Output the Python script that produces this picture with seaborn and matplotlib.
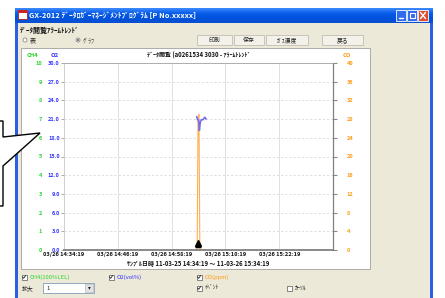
import numpy as np
import pandas as pd
import matplotlib
matplotlib.use("Agg")
import matplotlib.pyplot as plt
import matplotlib.transforms as mtransforms
from matplotlib.patches import Rectangle, Polygon
import seaborn as sns

sns.set_theme(style="white")
plt.rcParams['font.family'] = ['Noto Sans CJK JP', 'DejaVu Sans']

# ---------------- data ----------------
ch4_ticks = [0, 1, 2, 3, 4, 5, 6, 7, 8, 9, 10]
o2_ticks = [0, 3, 6, 9, 12, 15, 18, 21, 24, 27, 30]
o2_tick_labels = ["0.0", "3.0", "6.0", "9.0", "12.0", "15.0", "18.0", "21.0", "24.0", "27.0", "30.0"]
co_ticks = [0, 4, 8, 12, 16, 20, 24, 28, 32, 36, 40]
x_ticks = [0, 12, 24, 36, 48]          # minutes after 14:34:19
x_tick_labels = ["03/26 14:34:19", "03/26 14:46:19", "03/26 14:58:19",
                 "03/26 15:10:19", "03/26 15:22:19"]

o2_time = [29.6, 29.8, 30.0, 30.2, 30.4, 30.6, 31.0, 31.4, 31.7]
o2_vol = [21.4, 20.9, 20.9, 19.2, 20.5, 20.9, 20.9, 21.3, 21.0]
co_time = [29.4, 29.7, 29.9, 30.1, 30.3, 30.6, 31.2, 31.7]
co_ppm = [0, 0, 28, 29, 0, 0, 0, 0]
ch4_time = [29.4, 29.9, 30.4, 31.0, 31.7]
ch4_lel = [0, 0, 0, 0, 0]
event_time = [29.8]

title_text = "ﾃﾞｰﾀ閲覧 (a0261534 3030 - ｱﾗｰﾑﾄﾚﾝﾄﾞ"
sample_text = "ｻﾝﾌﾟﾙ日時 11-03-25 14:34:19 ～ 11-03-26 15:34:19"

GREEN = "#2ad62a"
BLUE = "#3434ff"
ORANGE = "#ff9c1a"
O2LINE = "#7a6ee6"
COLINE = "#ffae50"

W, H = 445, 298
fig = plt.figure(figsize=(W / 100, H / 100), dpi=100)
fig.patch.set_facecolor("white")

# ---------------- window chrome ----------------
bg = fig.add_axes([0, 0, 1, 1])
bg.set_xlim(0, W)
bg.set_ylim(H, 0)
bg.axis("off")

bg.add_patch(Rectangle((16, 8), 417, 292, facecolor="#ECE9D8", edgecolor="none"))
bg.add_patch(Rectangle((15, 8), 3, 292, facecolor="#2a5fe0", edgecolor="none"))
bg.add_patch(Rectangle((430, 8), 3, 292, facecolor="#2a5fe0", edgecolor="none"))
grad = np.linspace(0, 1, 50).reshape(-1, 1)
cmap = matplotlib.colors.LinearSegmentedColormap.from_list(
    "tb", ["#3d8bff", "#0a5de8", "#0052dd", "#0a4fd0"])
bg.imshow(grad, extent=(15, 433, 23, 8), aspect="auto", cmap=cmap, zorder=1)
bg.add_patch(Rectangle((18, 10), 9, 9, facecolor="#ffffff", edgecolor="#aa2222", lw=0.6, zorder=2))
bg.add_patch(Rectangle((18, 10), 9, 3, facecolor="#cc2222", edgecolor="none", zorder=2))
bg.text(29, 15.5, "GX-2012 ﾃﾞｰﾀﾛｶﾞｰﾏﾈｰｼﾞﾒﾝﾄﾌﾟﾛｸﾞﾗﾑ [P No.xxxxx]", color="white",
        fontsize=5.4, va="center", ha="left", fontweight="bold", zorder=3)
for x0, fc in [(396, "#2f6cf0"), (407, "#2f6cf0"), (418, "#e0502f")]:
    bg.add_patch(Rectangle((x0, 10), 10, 11, facecolor=fc, edgecolor="white", lw=0.6, zorder=3))
bg.plot([399, 403], [18, 18], color="white", lw=1, zorder=4)
bg.add_patch(Rectangle((409.5, 12.5), 5, 5, facecolor="none", edgecolor="white", lw=0.8, zorder=4))
bg.plot([420.5, 425.5], [12.5, 18.5], color="white", lw=1, zorder=4)
bg.plot([420.5, 425.5], [18.5, 12.5], color="white", lw=1, zorder=4)

bg.text(20, 30, "ﾃﾞｰﾀ閲覧ｱﾗｰﾑﾄﾚﾝﾄﾞ", fontsize=5.0, va="center", ha="left", color="#111111",
        fontweight="bold")
bg.add_patch(plt.Circle((25, 40), 2, facecolor="white", edgecolor="#777777", lw=0.5))
bg.text(30, 40, "表", fontsize=4.4, va="center", ha="left", color="#222222")
bg.add_patch(plt.Circle((78, 40), 2, facecolor="white", edgecolor="#777777", lw=0.5))
bg.add_patch(plt.Circle((78, 40), 0.9, facecolor="#333333", edgecolor="none"))
bg.text(83, 40, "ｸﾞﾗﾌ", fontsize=4.4, va="center", ha="left", color="#444444")

for (x0, x1), lab in zip([(197, 232), (234, 264), (266, 308), (322, 363)],
                         ["印刷", "保存", "ｶﾞｽ濃度", "戻る"]):
    bg.add_patch(Rectangle((x0, 35), x1 - x0, 10, facecolor="#f3f1ea",
                           edgecolor="#b8b4a8", lw=0.5))
    bg.text((x0 + x1) / 2, 40, lab, fontsize=4.2, va="center", ha="center", color="#222222")

bg.add_patch(Rectangle((21, 48), 349, 221, facecolor="white", edgecolor="#a0a0a0", lw=0.6))
bg.text(32, 55.5, "CH4", fontsize=4.2, color=GREEN, ha="center", va="center", fontweight="bold")
bg.text(55, 55.5, "O2", fontsize=4.2, color=BLUE, ha="center", va="center", fontweight="bold")
bg.text(347, 55.5, "CO", fontsize=4.2, color=ORANGE, ha="center", va="center", fontweight="bold")
bg.text(198.5, 55.5, title_text, fontsize=4.3, color="#111111", ha="center", va="center",
        fontweight="bold")
bg.text(198.5, 263.5, sample_text, fontsize=4.3, color="#111111", ha="center", va="center",
        fontweight="bold")

def checkbox(x, y, checked=True):
    bg.add_patch(Rectangle((x - 2.5, y - 2.5), 5, 5, facecolor="white",
                           edgecolor="#555555", lw=0.5))
    if checked:
        bg.plot([x - 1.5, x - 0.3, x + 1.6], [y, y + 1.3, y - 1.4], color="#222222", lw=0.6)

checkbox(24, 277)
bg.text(30, 277, "CH4(100%LEL)", fontsize=4.2, color=GREEN, va="center", ha="left")
checkbox(111, 277)
bg.text(117, 277, "O2(vol%)", fontsize=4.2, color=BLUE, va="center", ha="left")
checkbox(199, 277)
bg.text(205, 277, "CO(ppm)", fontsize=4.2, color=ORANGE, va="center", ha="left")
bg.text(22, 288, "拡大", fontsize=4.2, color="#222222", va="center", ha="left")
bg.add_patch(Rectangle((43, 283), 51, 10, facecolor="white", edgecolor="#7f9db9", lw=0.6))
bg.text(46, 288, "1", fontsize=4.2, color="#222222", va="center", ha="left")
bg.add_patch(Rectangle((85, 284), 8, 8, facecolor="#e4e4e4", edgecolor="#aaaaaa", lw=0.4))
bg.text(89, 288, "▾", fontsize=4.0, color="#222222", va="center", ha="center")
checkbox(199, 288)
bg.text(205, 288, "ｲﾍﾞﾝﾄ", fontsize=4.2, color="#222222", va="center", ha="left")
checkbox(289, 288, checked=False)
bg.text(295, 288, "ｶｰｿﾙ", fontsize=4.2, color="#222222", va="center", ha="left")

bg.add_patch(Polygon([(-3, 121), (3, 121), (3, 137), (40, 133), (3, 166), (3, 206), (-3, 206)],
                     closed=True, facecolor="white", edgecolor="black", lw=1.0, zorder=5))

# ---------------- chart axes ----------------
L, R, T, B = 64, 333, 63, 250
rect = [L / W, (H - B) / H, (R - L) / W, (B - T) / H]
ax = fig.add_axes(rect)          # O2 axis (left, 0-30)
ax.set_facecolor("none")
ax_ch4 = ax.twinx()              # CH4 axis (left labels, 0-10)
ax_co = ax.twinx()               # CO axis (right, 0-40)

df_o2 = pd.DataFrame({"t": o2_time, "v": o2_vol})
df_co = pd.DataFrame({"t": co_time, "v": co_ppm})
df_ch4 = pd.DataFrame({"t": ch4_time, "v": ch4_lel})

sns.lineplot(data=df_ch4, x="t", y="v", ax=ax_ch4, color=GREEN, lw=0.8, estimator=None)
sns.lineplot(data=df_co, x="t", y="v", ax=ax_co, color=COLINE, lw=0.8, estimator=None)
sns.lineplot(data=df_o2, x="t", y="v", ax=ax, color=O2LINE, lw=1.2, estimator=None, zorder=5)
ax.set_zorder(3)
ax_co.set_zorder(2)
ax_ch4.set_zorder(1)

ax.set_xlim(0, 60)
ax.set_ylim(0, 30)
ax_ch4.set_ylim(0, 10)
ax_co.set_ylim(0, 40)
for a in (ax, ax_ch4, ax_co):
    a.set_xlabel("")
    a.set_ylabel("")

for v in o2_ticks[1:-1]:
    ax.axhline(v, color="#d0d0d0", lw=0.5, ls=(0, (3, 3)), zorder=0)
for v in x_ticks[1:]:
    ax.axvline(v, color="#dcdcdc", lw=0.6, zorder=0)

ax.set_xticks(x_ticks)
ax.set_xticklabels(x_tick_labels, fontweight="bold")
ax.tick_params(axis="x", bottom=False, length=0, pad=1.5, labelsize=4.1,
               labelcolor="#111111", labelbottom=True)

ax.yaxis.tick_left()
ax.set_yticks(o2_ticks)
ax.set_yticklabels(o2_tick_labels, fontweight="bold")
ax.tick_params(axis="y", left=True, length=2, width=0.5, color="#888888",
               pad=1, labelsize=4.0, labelcolor=BLUE)

ax_ch4.yaxis.tick_left()
ax_ch4.set_yticks(ch4_ticks)
ax_ch4.set_yticklabels([str(v) for v in ch4_ticks], fontweight="bold")
ax_ch4.tick_params(axis="y", left=True, right=False, labelleft=True, labelright=False,
                   length=0, pad=16, labelsize=4.0, labelcolor=GREEN)

ax_co.set_yticks(co_ticks)
ax_co.set_yticklabels([str(v) for v in co_ticks], fontweight="bold")
ax_co.tick_params(axis="y", right=True, length=3, width=0.8, color="#888888",
                  pad=7, labelsize=4.0, labelcolor=ORANGE)

for a in (ax, ax_ch4, ax_co):
    for s in a.spines.values():
        s.set_visible(False)
for name, sp in ax.spines.items():
    sp.set_visible(True)
    sp.set_color("#a0a0a0")
    sp.set_linewidth(0.6)
ax.spines["bottom"].set_color("#808080")
ax.spines["bottom"].set_linewidth(1.3)
ax.spines["right"].set_color("#808080")
ax.spines["right"].set_linewidth(0.9)
ax.spines["left"].set_color("#c8c8c8")

trans = mtransforms.blended_transform_factory(ax.transData, ax.transAxes)
ax.plot(event_time, [0.035], marker="^", ms=4, color="black", transform=trans,
        clip_on=False, zorder=6, ls="none")
ax.plot(event_time, [0.015], marker="_", ms=5, mew=1, color="black", transform=trans,
        clip_on=False, zorder=6, ls="none")

fig.savefig("out.png", dpi=100, facecolor="white")
